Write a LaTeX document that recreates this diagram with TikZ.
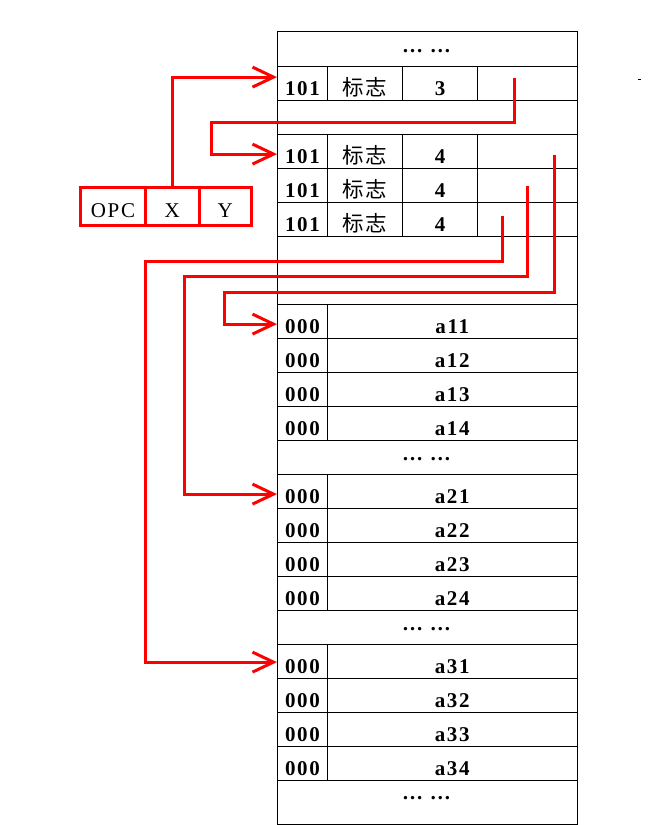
\documentclass[tikz,border=0pt]{standalone}
\usepackage{fontspec}
\setmainfont{Liberation Serif}
\newfontfamily\lsfont[LetterSpace=8]{Liberation Serif}
\newfontfamily\cjkfont[LetterSpace=6]{Noto Sans CJK SC}
\usetikzlibrary{arrows.meta}
\newcommand\mydots{\textbf{… …}}
\newcommand\flagtxt{{\fontsize{21.5}{24}\cjkfont\mdseries 标志}}
\begin{document}
\begin{tikzpicture}[x=1pt,y=-1pt,
  cell/.style={draw=black, line width=1.2pt, inner sep=0pt, minimum height=34pt,
    text height=29pt, text depth=5pt, anchor=north west,
    font=\fontsize{21}{24}\lsfont\bfseries},
  dotcell/.style={cell, minimum width=299.5pt, text height=20pt, text depth=14pt},
  rbox/.style={draw=red, line width=3pt, inner sep=0pt, minimum height=38pt,
    text height=30.5pt, text depth=7.5pt, anchor=north west,
    font=\fontsize{21}{24}\lsfont},
  redline/.style={draw=red, line width=3pt, line join=miter,
    -{Straight Barb[length=21pt,width=20pt]}}]
\useasboundingbox (0,0) rectangle (660,825);

% top part of the table
\node[dotcell, minimum height=34.5pt, text height=20.5pt] (d0) at (277,31) {\mydots};
\node[cell, minimum width=49.7pt] (r1a) at (277,65.5) {101};
\node[cell, minimum width=75.3pt] (r1b) at (326.7,65.5) {\flagtxt};
\node[cell, minimum width=75pt]   (r1c) at (402,65.5) {3};
\node[cell, minimum width=99.5pt] (r1d) at (477,65.5) {};
\node[cell, minimum width=299.5pt] (e2) at (277,99.5) {};
\foreach \r/\y in {3/133.5,4/167.5,5/201.5}{
  \node[cell, minimum width=49.7pt] (r\r a) at (277,\y) {101};
  \node[cell, minimum width=75.3pt] (r\r b) at (326.7,\y) {\flagtxt};
  \node[cell, minimum width=75pt]   (r\r c) at (402,\y) {4};
  \node[cell, minimum width=99.5pt] (r\r d) at (477,\y) {};
}
\node[cell, minimum width=299.5pt, minimum height=68pt] (e6) at (277,235.5) {};

% data rows
\foreach \g/\y in {1/303.5,2/473.5,3/643.5}{
  \foreach \i in {1,...,4}{
    \node[cell, minimum width=49.7pt] (z\g\i) at (277,{\y+34*(\i-1)}) {000};
    \node[cell, minimum width=249.8pt] (a\g\i) at (326.7,{\y+34*(\i-1)}) {a\g\i};
  }
}
\node[dotcell] (d1) at (277,439.5) {\mydots};
\node[dotcell] (d2) at (277,609.5) {\mydots};
\node[dotcell, minimum height=44.5pt, text height=19pt, text depth=25.5pt] (d3) at (277,779.5) {\mydots};

% instruction format
\node[rbox, minimum width=65pt]   (opc) at (79,185.5) {OPC};
\node[rbox, minimum width=53.5pt] (X)   at (144,185.5) {X};
\node[rbox, minimum width=52.5pt] (Y)   at (197.5,185.5) {Y};

% pointer starts
\coordinate (s2) at ([xshift=-12.5pt,yshift=5pt]r1d.center);
\coordinate (s3) at ([xshift=27.5pt,yshift=-4pt]r3d.center);
\coordinate (s4) at ([yshift=-1pt]r4d.center);
\coordinate (s5) at ([xshift=-25pt,yshift=3pt]r5d.center);

% red connectors
\draw[redline] (X.north) |- ([yshift=6pt]r1a.west);
\draw[redline] (s2) |- (211.7,122.7) |- ([yshift=-3pt]r3a.west);
\draw[redline] (s3) |- (224,292.3) |- ([yshift=-3pt]z11.west);
\draw[redline] (s4) |- (184.3,276.7) |- ([yshift=-3pt]z21.west);
\draw[redline] (s5) |- (145,261.7) |- ([yshift=-1pt]z31.west);

% small mark
\fill[black] (638,78.5) rectangle (640.5,80);
\end{tikzpicture}
\end{document}
